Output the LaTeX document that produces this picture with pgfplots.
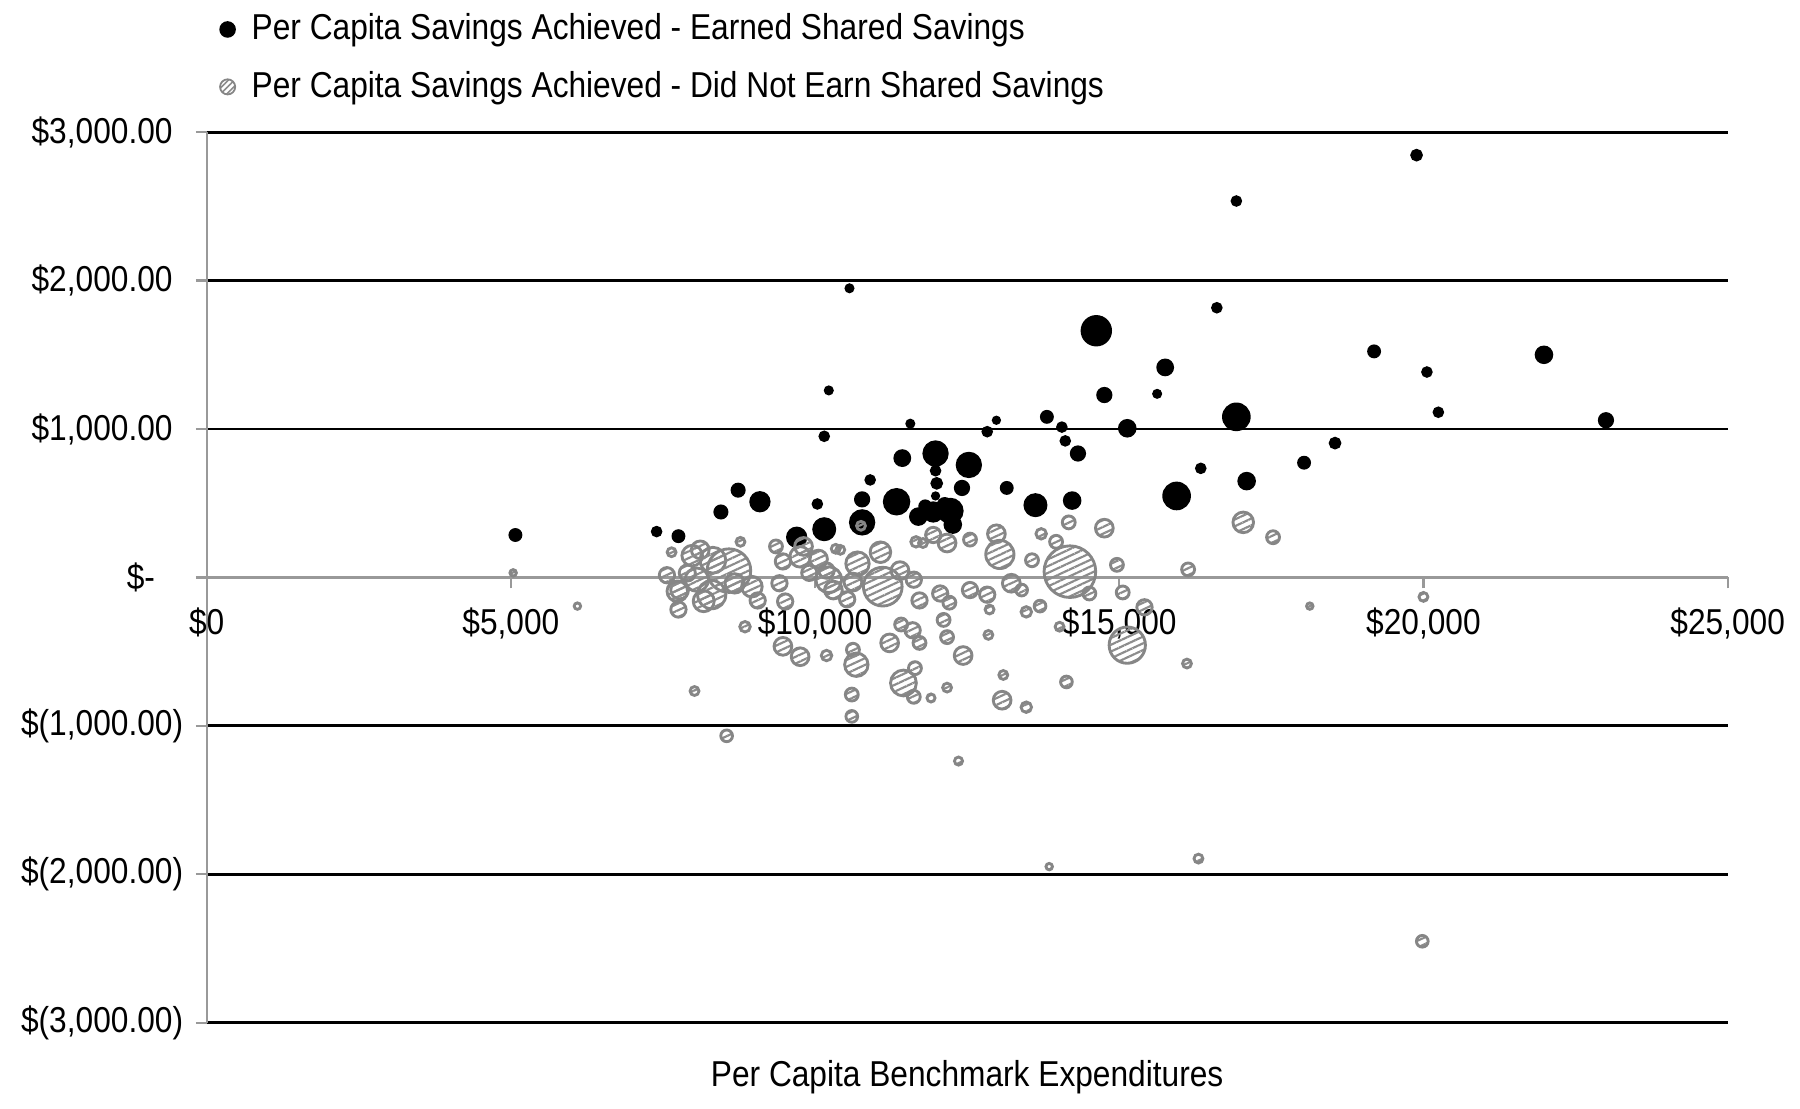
\documentclass[border=0pt]{standalone}
\usepackage{pgfplots}
\pgfplotsset{compat=1.18}
\usepackage{fontspec}
\setmainfont{Liberation Sans}[FakeStretch=0.88]
\usetikzlibrary{patterns.meta}

\pgfplotstableread{
x y r
5075 286 1.6
7396 309 1.3
7755 278 1.6
8453 441 1.75
8736 588 1.75
9094 510 2.55
9698 271 2.55
10038 495 1.3
10151 325 2.9
10151 951 1.3
10226 1260 1.1
10566 1948 1.1
10774 526 1.9
10774 371 3.2
10906 657 1.3
11340 510 3.35
11434 804 2.1
11566 1036 1.1
11698 410 2.2
11943 441 2.55
11981 835 3.2
11981 719 1.3
12000 634 1.45
11981 549 1.0
12226 448 3.2
12264 356 2.2
12415 603 1.9
12528 758 3.2
12830 982 1.3
12981 1059 1.0
13151 603 1.6
13623 487 2.9
13811 1082 1.6
14057 1013 1.3
14113 920 1.3
14226 518 2.2
14321 835 1.9
14623 1662 3.85
14755 1229 1.9
15132 1005 2.2
15623 1237 1.1
15755 1415 2.1
15943 549 3.5
16340 735 1.3
16604 1817 1.3
16925 2536 1.3
16925 1082 3.5
17094 649 2.2
18038 773 1.6
18547 905 1.45
19189 1523 1.6
19887 2845 1.45
20057 1384 1.3
20245 1113 1.3
21981 1500 2.2
23000 1059 1.9
12132 487 1.9
11811 479 1.6
}\earned

\pgfplotstableread{
x y r
5038 31 0.8
6094 -193 0.8
8019 -765 1.1
8547 -1067 1.45
7566 15 1.9
7642 170 1.1
8113 186 2.2
8321 116 3.2
8585 46 5.4
8057 -15 2.9
7774 -85 2.2
7755 -216 1.9
8302 -116 3.5
8962 -62 2.55
9057 -155 1.9
8774 240 1.1
8849 -332 1.3
7981 147 2.55
7736 -93 2.55
9358 209 1.6
9472 108 1.9
9415 -39 1.9
9509 -162 1.9
9755 139 2.55
9906 31 1.9
10189 46 1.9
10302 -85 2.2
10415 186 1.1
9472 -464 2.2
9755 -534 2.2
10189 -526 1.3
10057 124 2.2
9811 209 2.2
10226 -15 3.2
10340 193 1.1
10698 93 2.9
11113 -62 4.8
11396 46 2.2
11623 -15 1.9
11717 -155 1.9
11075 170 2.55
10623 -487 1.6
10679 -588 2.9
10604 -789 1.6
10604 -936 1.45
11226 -441 2.2
11604 -356 1.9
11717 -441 1.6
11453 -711 3.2
11623 -804 1.6
11906 -812 1.0
12170 -742 1.1
11660 240 1.3
10623 -31 2.2
10528 -147 1.9
11415 -317 1.6
11642 -611 1.6
12057 -108 1.9
12208 -170 1.6
12547 -85 1.9
11774 232 1.1
12170 232 2.2
12547 255 1.6
12113 -286 1.6
12170 -402 1.6
12434 -526 2.2
12358 -1237 1.0
11943 286 1.9
12830 -116 1.9
12868 -216 1.1
12981 294 2.2
13038 155 3.5
12849 -387 1.1
13075 -827 2.2
13094 -657 1.1
13472 -874 1.3
13226 -39 2.2
13396 -85 1.45
13566 116 1.6
13717 294 1.3
13962 240 1.6
14170 371 1.6
14189 39 6.4
14509 -108 1.6
13472 -232 1.3
13698 -193 1.45
14019 -332 1.1
14132 -704 1.45
14755 332 2.2
14962 85 1.6
15057 -101 1.6
15415 -201 1.9
15132 -456 4.5
16132 54 1.6
16113 -580 1.1
17038 371 2.55
17528 271 1.6
18132 -193 0.8
20000 -131 1.1
13849 -1948 0.8
16302 -1894 1.1
19981 -2451 1.45
10755 348 1.1
8170 -160 2.6
8680 -40 2.4
7900 30 2.0
}\notearned

\begin{document}
\begin{tikzpicture}
\begin{axis}[
  scale only axis,
  width=422.5pt, height=247.4pt,
  xmin=0, xmax=25000, ymin=-3000, ymax=3000,
  axis x line=middle, axis y line=left,
  every inner x axis line/.append style={-},
  every outer x axis line/.append style={-},
  every inner y axis line/.append style={-},
  every outer y axis line/.append style={-},
  axis line style={draw=gray!80, line width=0.6pt},
  hide obscured x ticks=false, hide obscured y ticks=false,
  scaled x ticks=false, scaled y ticks=false,
  xtick={0,5000,10000,15000,20000,25000},
  xticklabels={{\$0},{\$5,000},{\$10,000},{\$15,000},{\$20,000},{\$25,000}},
  ytick={-3000,-2000,-1000,1000,2000,3000},
  yticklabels={{\$(3,000.00)},{\$(2,000.00)},{\$(1,000.00)},{\$1,000.00\hphantom{)}},{\$2,000.00\hphantom{)}},{\$3,000.00\hphantom{)}}},
  extra y ticks={0},
  extra y tick labels={{\$-\hphantom{0)}}},
  extra y tick style={grid=none},
  ymajorgrids,
  major grid style={draw=black, line width=0.8pt},
  tick align=outside,
  major tick length=3pt,
  tick style={draw=gray!80, line width=0.6pt},
  /pgf/number format/assume math mode=true,
  ticklabel style={font=\fontsize{10}{12}\selectfont},
  xticklabel style={anchor=north, yshift=-2pt},
  yticklabel style={anchor=east},
  every axis x label/.style={at={(rel axis cs:0.5,0)}, anchor=center, yshift=-15pt},
  xlabel={Per Capita Benchmark Expenditures},
  label style={font=\fontsize{10}{12}\selectfont},
  legend style={draw=none, fill=none, at={(rel axis cs:0,1)}, anchor=south west,
    inner sep=0pt, nodes={inner sep=1pt},
    xshift=3.3pt, yshift=7pt, font=\fontsize{10}{12}\selectfont, row sep=5.2pt},
  legend cell align=left,
  clip=false,
]
\addplot[only marks, scatter, mark=*,
  scatter/use mapped color={draw=black, fill=black},
  visualization depends on={\thisrow{r} \as \perpointmarksize},
  scatter/@pre marker code/.append style={/tikz/mark size={1.08*\perpointmarksize}},
  legend image code/.code={\fill[black] (0.1cm,0cm) circle (2.1pt); \path[draw=none,fill=none] (0.1cm,0) -- (0.3cm,0);}
] table[x=x, y=y] {\earned};
\addlegendentry{Per Capita Savings Achieved - Earned Shared Savings}
\addplot[only marks, scatter, mark=*,
  scatter/use mapped color={draw=gray!95, line width=0.8pt, pattern={Lines[angle=25,distance=1.7pt,line width=0.6pt]}, pattern color=gray!90},
  visualization depends on={\thisrow{r} \as \perpointmarksize},
  scatter/@pre marker code/.append style={/tikz/mark size={1.12*\perpointmarksize}},
  legend image code/.code={\draw[draw=gray!95, line width=0.5pt, pattern={Lines[angle=45,distance=1.2pt,line width=0.45pt]}, pattern color=gray!90] (0.1cm,0cm) circle (2.1pt); \path[draw=none,fill=none] (0.1cm,0) -- (0.3cm,0);}
] table[x=x, y=y] {\notearned};
\addlegendentry{Per Capita Savings Achieved - Did Not Earn Shared Savings}
\end{axis}
\path (-57.4pt,-23.9pt) rectangle (442.6pt,284.1pt);
\end{tikzpicture}
\end{document}
